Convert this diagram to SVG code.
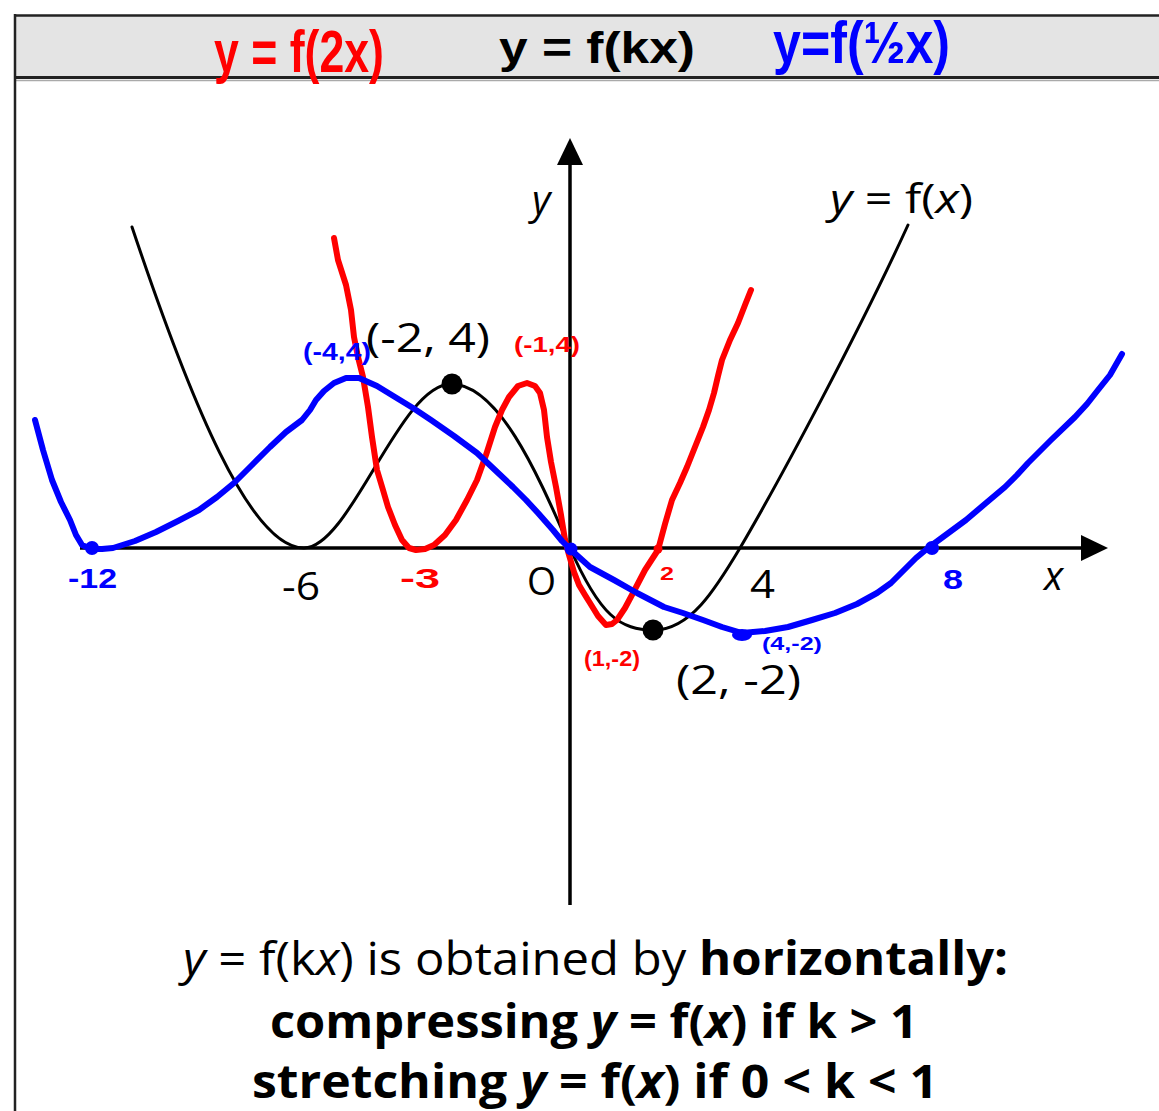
<svg xmlns="http://www.w3.org/2000/svg" width="1159" height="1111" viewBox="0 0 1159 1111">
<defs>
<style>
.lbl{font-family:"Open Sans","Noto Sans","DejaVu Sans",sans-serif;fill:#000}
.hd{font-family:"Liberation Sans",Arial,sans-serif;font-weight:bold;fill:#000}
.hw{font-family:"Liberation Sans",Arial,sans-serif;font-weight:bold}
.red{fill:#ff0000}
.blue{fill:#0000ff}
.curve{fill:none;stroke-linecap:round;stroke-linejoin:round}
</style>
</defs>
<rect x="0" y="0" width="1159" height="1111" fill="#ffffff"/>
<g id="frame">
<rect x="15" y="15" width="1150" height="63" fill="#e4e4e4"/>
<line x1="15" y1="15.5" x2="1159" y2="15.5" stroke="#222" stroke-width="2.5"/>
<line x1="15" y1="77.5" x2="1159" y2="77.5" stroke="#222" stroke-width="3"/>
<line x1="15" y1="80.5" x2="1159" y2="80.5" stroke="#aaa" stroke-width="1.5"/>
<line x1="15" y1="14" x2="15" y2="1111" stroke="#222" stroke-width="2.5"/>
</g>
<g id="header">
<text class="hd" x="499" y="63" font-size="44" textLength="196" lengthAdjust="spacingAndGlyphs">y = f(kx)</text>
<text class="hw red" x="214" y="72" font-size="60" textLength="170" lengthAdjust="spacingAndGlyphs">y = f(2x)</text>
<text class="hw blue" x="773" y="63" font-size="60" textLength="177" lengthAdjust="spacingAndGlyphs">y=f(½x)</text>
</g>
<g id="axes">
<line x1="80" y1="548" x2="1084" y2="548" stroke="#000" stroke-width="3.5"/>
<polygon points="1108,548 1081,535 1081,561" fill="#000"/>
<line x1="570" y1="905" x2="570" y2="162" stroke="#000" stroke-width="3.5"/>
<polygon points="570,138 557,165 583,165" fill="#000"/>
<text class="lbl" x="532" y="214" font-size="40" font-style="italic">y</text>
<text class="lbl" x="1044" y="590" font-size="40" font-style="italic">x</text>
<text class="lbl" x="527" y="595" font-size="38" textLength="29" lengthAdjust="spacingAndGlyphs">O</text>
<text class="lbl" x="282" y="600" font-size="38" textLength="38" lengthAdjust="spacingAndGlyphs">-6</text>
<text class="lbl" x="750" y="598" font-size="38" textLength="25" lengthAdjust="spacingAndGlyphs">4</text>
</g>
<g id="f-curve">
<path class="curve" stroke="#000" stroke-width="3" d="M132,227 C190,400 250,548 304,548 C350,548 400,384 451,384 C500,384 540,480 570,548 C600,616 620,630 654,630 C690,630 715,590 740,548 C780,480 860,330 908,225"/>
<circle cx="452" cy="384" r="10.5" fill="#000"/>
<circle cx="653" cy="630" r="10.5" fill="#000"/>
<text class="lbl" x="830" y="213" font-size="40" textLength="143" lengthAdjust="spacingAndGlyphs"><tspan font-style="italic">y</tspan> = f(<tspan font-style="italic">x</tspan>)</text>
<text class="lbl" x="366" y="352" font-size="40" textLength="124" lengthAdjust="spacingAndGlyphs">(-2, 4)</text>
<text class="lbl" x="676" y="694" font-size="40" textLength="125" lengthAdjust="spacingAndGlyphs">(2, -2)</text>
</g>
<g id="f2x-curve">
<polyline class="curve" stroke="#ff0000" stroke-width="6" points="334,238 338,260 346,285 351,310 354,337 358,357 363,377 368,407 372,437 377,470 383,490 388,507 395,525 402,540 409,548 416,550 425,549 434,545 445,535 456,520 467,500 477,480 486,455 495,427 502,410 509,397 518,386 527,383 535,386 540,393 544,410 547,437 551,462 556,487 561,515 565,540 569,555 574,572 579,585 585,595 590,603 598,616 606,625 612,624 617,620 625,608 633,593 645,570 658,550 665,524 672,500 680,483 687,467 695,447 703,427 709,410 714,393 718,376 722,360 730,340 738,323 745,305 751,290"/>
<circle cx="658" cy="549" r="4.5" fill="#ff0000"/>
<text class="hw red" x="514" y="352" font-size="22" textLength="66" lengthAdjust="spacingAndGlyphs">(-1,4)</text>
<text class="hw red" x="584" y="666" font-size="22" textLength="56" lengthAdjust="spacingAndGlyphs">(1,-2)</text>
<text class="hw red" x="400" y="588" font-size="28" textLength="40" lengthAdjust="spacingAndGlyphs">-3</text>
<text class="hw red" x="660" y="580" font-size="19" textLength="14" lengthAdjust="spacingAndGlyphs">2</text>
</g>
<g id="fhalfx-curve">
<polyline class="curve" stroke="#0000ff" stroke-width="6" points="35,420 43,450 52,480 61,502 70,520 76,535 82,545 91,549 102,549 113,548 135,541 156,532 178,521 199,510 217,497 234,483 252,465 270,447 286,432 302,420 310,410 316,400 324,391 334,383 346,378 359,378 377,386 395,397 413,408 431,420 454,436 477,453 495,470 513,487 526,500 538,513 553,530 562,541 570,549 580,558 590,567 614,580 637,593 664,607 683,613 703,620 722,627 742,633 765,631 788,627 812,620 835,613 857,604 877,593 891,583 904,570 916,558 928,548 947,534 966,520 986,503 1005,487 1017,475 1028,463 1051,440 1075,417 1087,404 1098,390 1110,375 1122,354"/>
<circle cx="92" cy="548" r="7" fill="#0000ff"/>
<circle cx="571" cy="549" r="6.5" fill="#0000ff"/>
<circle cx="932" cy="548" r="7" fill="#0000ff"/>
<ellipse cx="742" cy="635" rx="10" ry="6" fill="#0000ff"/>
<text class="hw blue" x="303" y="360" font-size="24" textLength="68" lengthAdjust="spacingAndGlyphs">(-4,4)</text>
<text class="hw blue" x="762" y="650" font-size="18" textLength="60" lengthAdjust="spacingAndGlyphs">(4,-2)</text>
<text class="hw blue" x="68" y="588" font-size="28" textLength="49" lengthAdjust="spacingAndGlyphs">-12</text>
<text class="hw blue" x="943" y="589" font-size="28" textLength="20" lengthAdjust="spacingAndGlyphs">8</text>
</g>
<g id="caption">
<text class="lbl" x="183" y="975" font-size="46" textLength="825" lengthAdjust="spacingAndGlyphs"><tspan font-style="italic">y</tspan> = f(k<tspan font-style="italic">x</tspan>) is obtained by <tspan font-weight="bold">horizontally:</tspan></text>
<text class="lbl" x="270" y="1038" font-size="46" font-weight="bold" textLength="648" lengthAdjust="spacingAndGlyphs">compressing <tspan font-style="italic">y</tspan> = f(<tspan font-style="italic">x</tspan>) if k &gt; 1</text>
<text class="lbl" x="252" y="1098" font-size="46" font-weight="bold" textLength="686" lengthAdjust="spacingAndGlyphs">stretching <tspan font-style="italic">y</tspan> = f(<tspan font-style="italic">x</tspan>) if 0 &lt; k &lt; 1</text>
</g>
</svg>
